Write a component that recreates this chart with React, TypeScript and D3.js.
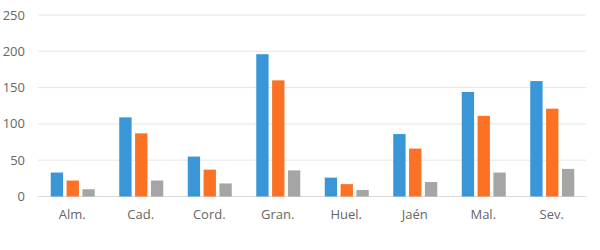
import React from "react";
import * as d3 from "d3";

const categories = ["Alm.", "Cad.", "Cord.", "Gran.", "Huel.", "Jaén", "Mal.", "Sev."];
const seriesA = [33, 109, 55, 196, 26, 86, 144, 159];
const seriesB = [22, 87, 37, 160, 17, 66, 111, 121];
const seriesC = [10, 22, 18, 36, 9, 20, 33, 38];
const yTicks = [0, 50, 100, 150, 200, 250];
const colors = ["#3a96d6", "#fb7224", "#a5a5a5"];

export default function App() {
  const W = 600, H = 250;
  const left = 38, right = 586, top = 15, bottom = 196.5;
  const x = d3.scaleBand<string>().domain(categories).range([left, right]).paddingInner(0).paddingOuter(0);
  const y = d3.scaleLinear().domain([0, 250]).range([bottom, top]);
  const series = [seriesA, seriesB, seriesC];
  const inner = d3.scaleBand<number>().domain([0, 1, 2]).range([0, 44]).paddingInner(0.22);
  const groupOffset = (x.bandwidth() - 44) / 2 + 0.5;
  return (
    <svg width={W} height={H} style={{ position: "absolute", left: 0, top: 0, background: "#fff" }}
      fontFamily="'Open Sans', sans-serif">
      {yTicks.map((t) => (
        <g key={t}>
          <line x1={left} x2={right} y1={y(t)} y2={y(t)} stroke={t === 0 ? "#d9d9d9" : "#e6e6e6"} strokeWidth={1} />
          <text x={25} y={y(t)} dy="0.35em" textAnchor="end" fontSize={13} fill="#666">{t}</text>
        </g>
      ))}
      {categories.map((c, i) => (
        <g key={c} transform={`translate(${x(c)! + groupOffset},0)`}>
          {series.map((s, j) => (
            <rect key={j} x={inner(j)} y={y(s[i])} width={inner.bandwidth()} height={bottom - y(s[i])} fill={colors[j]} />
          ))}
        </g>
      ))}
      {categories.map((c) => (
        <text key={c} x={x(c)! + x.bandwidth() / 2} y={219} textAnchor="middle" fontSize={13} fill="#666">{c}</text>
      ))}
    </svg>
  );
}
